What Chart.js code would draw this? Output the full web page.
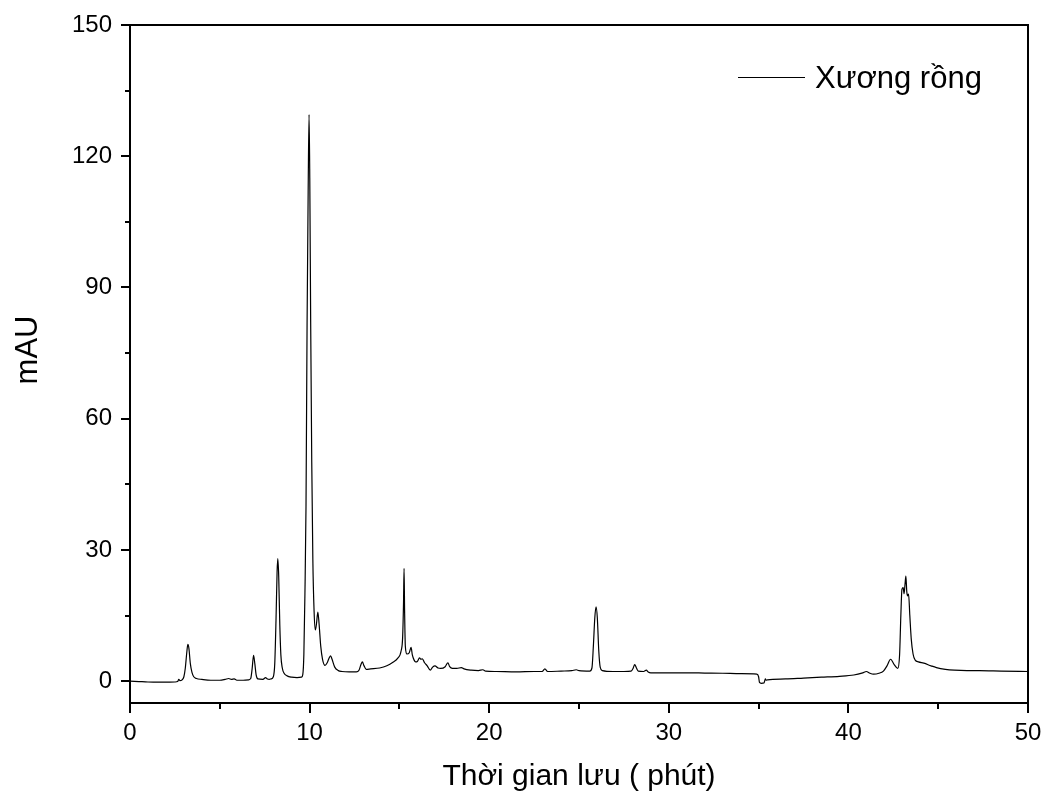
<!DOCTYPE html>
<html>
<head>
<meta charset="utf-8">
<script src="https://cdn.jsdelivr.net/npm/chart.js@4.4.1/dist/chart.umd.min.js"></script>
<style>
  body { margin: 0; background: #fff; }
  #wrap { width: 1043px; height: 795px; position: relative; }
</style>
</head>
<body>
<div id="wrap"><canvas id="chromChart"></canvas></div>
<script>
// sắc ký đồ - Xương rồng
const seriesName = 'Xương rồng';
const xTitle = 'Thời gian lưu ( phút)';
const yTitle = 'mAU';

// thời gian lưu (phút)
const retentionTime = [
  0, 0.5, 1.0, 1.5, 2.0, 2.5, 2.65, 2.72, 2.78, 2.9, 3.0, 3.08, 3.16, 3.22, 3.28, 3.36, 3.45, 3.55, 3.7, 4.0,
  4.5, 5.0, 5.3, 5.5, 5.65, 5.8, 5.95, 6.3, 6.6, 6.72, 6.8, 6.88, 6.95, 7.02, 7.12, 7.4, 7.55, 7.65, 7.75, 7.85,
  7.98, 8.06, 8.13, 8.19, 8.23, 8.28, 8.34, 8.4, 8.48, 8.58, 8.75, 9.0, 9.3, 9.55, 9.62, 9.68, 9.74, 9.8, 9.86, 9.92,
  9.97, 10.01, 10.06, 10.12, 10.18, 10.25, 10.32, 10.38, 10.46, 10.53, 10.62, 10.72, 10.86, 10.98, 11.1, 11.17, 11.25, 11.4, 11.6, 11.8,
  12.2, 12.6, 12.75, 12.86, 12.94, 13.02, 13.15, 13.4, 13.9, 14.3, 14.64, 14.9, 15.1, 15.18, 15.23, 15.26, 15.29, 15.33, 15.42, 15.55,
  15.65, 15.72, 15.82, 15.9, 16.0, 16.12, 16.2, 16.28, 16.4, 16.55, 16.72, 16.85, 16.98, 17.15, 17.3, 17.55, 17.7, 17.8, 17.95, 18.2,
  18.45, 18.6, 19.0, 19.4, 19.65, 19.8, 20.4, 21.5, 22.5, 22.95, 23.1, 23.25, 24.0, 24.6, 24.85, 25.0, 25.6, 25.72, 25.8, 25.88,
  25.95, 26.02, 26.1, 26.18, 26.3, 26.9, 27.5, 27.9, 28.02, 28.1, 28.2, 28.3, 28.6, 28.75, 28.85, 29.0, 30.0, 31.0, 32.0, 33.0,
  34.0, 34.9, 35.0, 35.05, 35.15, 35.3, 35.38, 35.42, 35.5, 36.5, 37.5, 38.5, 39.5, 40.3, 40.8, 41.0, 41.2, 41.4, 41.7, 41.95,
  42.15, 42.35, 42.55, 42.75, 42.85, 42.92, 42.98, 43.05, 43.1, 43.15, 43.2, 43.25, 43.29, 43.35, 43.42, 43.5, 43.6, 43.72, 43.9, 44.2,
  44.6, 44.9, 45.4, 45.9, 46.6, 47.3, 48.5, 50.0
];

// tín hiệu (mAU)
const absorbance = [
  0.0, -0.1, -0.2, -0.25, -0.25, -0.2, -0.1, 0.4, 0.1, 0.3, 1.0, 3.0, 6.5, 8.4, 7.5, 4.0, 2.0, 1.0, 0.6, 0.4,
  0.2, 0.2, 0.4, 0.6, 0.4, 0.5, 0.2, 0.2, 0.3, 0.6, 2.8, 5.9, 4.0, 1.5, 0.5, 0.4, 0.8, 0.5, 0.4, 0.5,
  1.0, 4.0, 14.0, 25.0, 28.0, 24.0, 13.0, 6.0, 3.0, 1.8, 1.2, 0.9, 0.8, 0.9, 1.5, 6.0, 20.0, 40.0, 82.0, 112.0,
  129.5, 115.0, 82.0, 50.0, 28.0, 16.0, 11.7, 13.0, 15.8, 13.0, 8.0, 5.0, 3.6, 4.2, 5.4, 5.8, 5.0, 3.2, 2.4, 2.2,
  2.1, 2.1, 2.5, 3.8, 4.4, 3.6, 2.7, 2.8, 3.0, 3.5, 4.3, 5.2, 7.0, 10.0, 18.0, 25.8, 16.0, 8.0, 6.2, 6.5,
  7.7, 6.0, 4.8, 4.4, 4.5, 5.3, 5.0, 5.1, 4.2, 3.5, 2.5, 3.2, 3.5, 3.0, 2.9, 3.3, 4.2, 3.3, 2.9, 2.9,
  3.1, 2.8, 2.5, 2.4, 2.6, 2.3, 2.2, 2.1, 2.2, 2.2, 2.8, 2.2, 2.3, 2.4, 2.6, 2.4, 2.3, 3.0, 8.0, 14.5,
  17.0, 14.5, 7.0, 3.2, 2.4, 2.2, 2.2, 2.3, 3.0, 3.8, 3.0, 2.3, 2.2, 2.5, 2.1, 1.9, 1.9, 1.9, 1.85, 1.8,
  1.7, 1.6, 1.0, -0.3, -0.5, -0.4, 0.5, 0.2, 0.3, 0.5, 0.7, 0.9, 1.1, 1.4, 1.9, 2.2, 1.8, 1.6, 1.8, 2.3,
  3.5, 5.0, 3.8, 2.9, 6.0, 15.0, 21.0, 21.4, 20.0, 22.0, 24.0, 20.5, 19.5, 19.9, 15.0, 9.6, 6.2, 4.8, 4.4, 4.1,
  3.5, 3.1, 2.7, 2.5, 2.4, 2.4, 2.3, 2.2
];

const fontFamily = "'Liberation Sans', Arial, sans-serif";

// khung, vạch chia, tiêu đề trục tung, chú giải
const framePlugin = {
  id: 'framePlugin',
  afterDraw(chart) {
    const { ctx, chartArea: a, scales } = chart;
    ctx.save();
    ctx.strokeStyle = '#000';
    ctx.lineWidth = 2;
    ctx.beginPath();
    ctx.moveTo(a.left, a.top);
    ctx.lineTo(a.right, a.top);
    ctx.lineTo(a.right, a.bottom);
    ctx.stroke();

    // vạch chia trục hoành
    scales.x.ticks.forEach(t => {
      const px = Math.round(scales.x.getPixelForValue(t.value));
      const len = t.value % 10 === 0 ? 10 : 6;
      ctx.beginPath();
      ctx.moveTo(px, a.bottom);
      ctx.lineTo(px, a.bottom + len);
      ctx.stroke();
    });
    // vạch chia trục tung
    scales.y.ticks.forEach(t => {
      const py = Math.round(scales.y.getPixelForValue(t.value));
      const len = t.value % 30 === 0 ? 9 : 5;
      ctx.beginPath();
      ctx.moveTo(a.left, py);
      ctx.lineTo(a.left - len, py);
      ctx.stroke();
    });

    // tiêu đề trục tung
    ctx.fillStyle = '#000';
    ctx.font = '31px ' + fontFamily;
    ctx.textAlign = 'center';
    ctx.textBaseline = 'middle';
    ctx.translate(28, 350);
    ctx.rotate(-Math.PI / 2);
    ctx.fillText(yTitle, 0, 0);
    ctx.setTransform(1, 0, 0, 1, 0, 0);

    // chú giải
    const ly = Math.round(a.top + 52) + 0.5;
    ctx.lineWidth = 1;
    ctx.beginPath();
    ctx.moveTo(Math.round(a.right - 290), ly);
    ctx.lineTo(Math.round(a.right - 223), ly);
    ctx.stroke();
    ctx.textAlign = 'left';
    ctx.textBaseline = 'alphabetic';
    ctx.fillText(chart.data.datasets[0].label, a.right - 213, a.top + 63);
    ctx.restore();
  }
};

const ctx = document.getElementById('chromChart').getContext('2d');
const myChart = new Chart(ctx, {
  type: 'line',
  data: {
    datasets: [{
      label: seriesName,
      data: retentionTime.map((t, i) => ({ x: t, y: absorbance[i] })),
      borderColor: '#000',
      borderWidth: 1.2,
      pointRadius: 0,
      fill: false,
      cubicInterpolationMode: 'monotone'
    }]
  },
  options: {
    responsive: true,
    maintainAspectRatio: false,
    animation: false,
    layout: { padding: { top: 25, right: 15, left: 0, bottom: 0 } },
    plugins: {
      legend: { display: false },
      tooltip: { enabled: false }
    },
    scales: {
      x: {
        type: 'linear',
        min: 0,
        max: 50,
        grid: { display: false },
        border: { display: true, color: '#000', width: 2 },
        ticks: {
          stepSize: 5,
          autoSkip: false,
          maxRotation: 0,
          padding: 8,
          color: '#000',
          font: { family: fontFamily, size: 24 },
          callback: v => (v % 10 === 0 ? v : '')
        },
        title: {
          display: true,
          text: xTitle,
          color: '#000',
          font: { family: fontFamily, size: 30 },
          padding: { top: 0, bottom: 0 }
        },
        afterFit: scale => {
          scale.height = 92;
          scale.paddingLeft = 0;
          scale.paddingRight = 0;
        }
      },
      y: {
        min: -5,
        max: 150,
        grid: { display: false },
        border: { display: true, color: '#000', width: 2 },
        ticks: {
          stepSize: 15,
          includeBounds: false,
          padding: 10,
          color: '#000',
          font: { family: fontFamily, size: 24 },
          callback: v => (v % 30 === 0 ? v : '')
        },
        afterFit: scale => {
          scale.width = 130;
          scale.paddingTop = 0;
          scale.paddingBottom = 0;
        }
      }
    }
  },
  plugins: [framePlugin]
});
</script>
</body>
</html>
